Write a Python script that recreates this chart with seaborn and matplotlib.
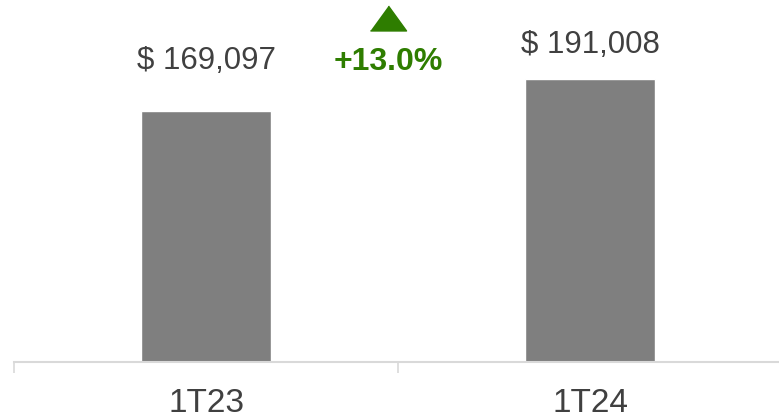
import pandas as pd
import seaborn as sb
import matplotlib.pyplot as plt

periods = ['1T23', '1T24']
values = [169097, 191008]

df = pd.DataFrame({'period': periods, 'value': values})

sb.set_style('white')
plt.rcParams['font.family'] = ['Liberation Sans', 'DejaVu Sans']

fig = plt.figure(figsize=(7.79, 4.18), dpi=100)
ax = fig.add_axes([14 / 779, 56 / 418, 768 / 779, 362 / 418])

sb.barplot(data=df, x='period', y='value', color='#7f7f7f', width=0.34,
           saturation=1, ax=ax)
ax.set_xlim(-0.5, 1.5)
ax.set_ylim(0, 243900)

# value labels above the bars
offsets = [25, 13.5]
for i, v in enumerate(values):
    ax.annotate(f'$ {v:,}', (i, v), xytext=(0, offsets[i]), textcoords='offset points',
                ha='center', va='bottom', fontsize=22.5, color='#404040')

# growth marker
growth = (values[1] / values[0] - 1) * 100
green = '#2e7d00'
ax.text(0.488, 0.828, f'+{growth:.1f}%', transform=ax.transAxes, ha='center',
        va='center', fontsize=23, fontweight='bold', color=green)
tri = [(-1, -0.69), (1, -0.69), (0, 0.69)]
ax.plot([0.487], [0.95], transform=ax.transAxes, marker=tri, markersize=26,
        color=green, clip_on=False)

for s in ['top', 'right', 'left']:
    ax.spines[s].set_visible(False)
ax.spines['bottom'].set_color('#d9d9d9')
ax.spines['bottom'].set_linewidth(1.5)
ax.set_yticks([])
ax.set_xticks([-0.5, 0.5, 1.5], minor=True)
ax.tick_params(axis='x', which='major', length=0, pad=19, labelsize=24, labelcolor='#404040')
ax.tick_params(axis='x', which='minor', length=8, width=1.2, color='#d9d9d9', bottom=True)
ax.set(xlabel='', ylabel='')

fig.savefig('out.png', dpi=100)
